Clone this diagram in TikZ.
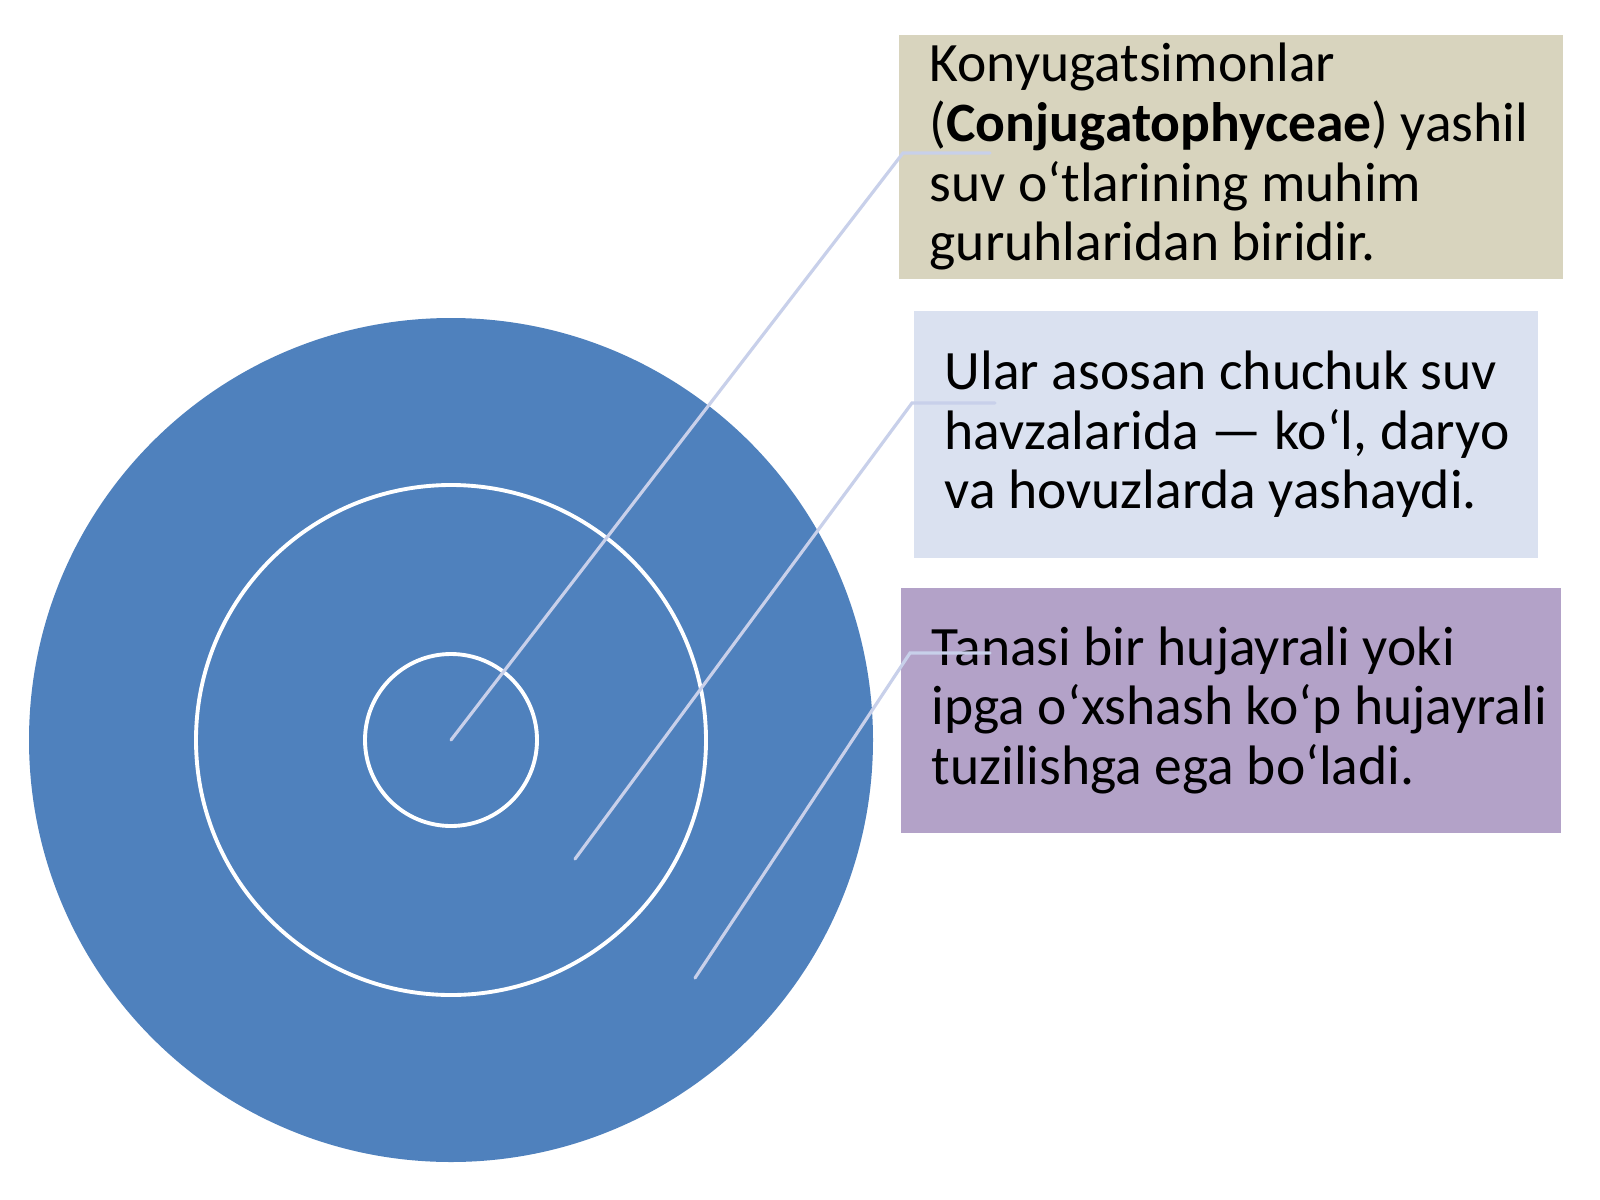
\documentclass[tikz,border=0pt]{standalone}
\usepackage{fontspec}
\setmainfont{Carlito}
\usetikzlibrary{positioning}
\definecolor{ringblue}{HTML}{4F81BD}
\definecolor{boxtan}{HTML}{D8D4BE}
\definecolor{boxsky}{HTML}{DAE1F0}
\definecolor{boxlilac}{HTML}{B3A2C8}
\definecolor{leadercol}{HTML}{C8D0EA}
\tikzset{
	infobox/.style={rectangle, anchor=north west, inner sep=0pt},
	infotext/.style={anchor=west, inner sep=0pt, align=left,
		font=\fontsize{15.8}{17}\selectfont},
	leader/.style={draw=leadercol, line width=0.9pt, line cap=round}
}
\begin{document}
\begin{tikzpicture}[x=0.01cm, y=-0.01cm]
		\useasboundingbox[fill=white] (0, 0) rectangle (1600, 1200);
		% target rings
		\coordinate (hub) at (451, 740);
		\fill[ringblue] (hub) circle[radius=422];
		\foreach \r in {255, 86}
			\draw[white, line width=1.1pt] (hub) circle[radius=\r];
		% text boxes
		\node[infobox, fill=boxtan, minimum width=6.64cm, minimum height=2.44cm] (b1) at (898, 34) {};
		\node[infobox, fill=boxsky, minimum width=6.24cm, minimum height=2.47cm] (b2) at (913, 310) {};
		\node[infobox, fill=boxlilac, minimum width=6.60cm, minimum height=2.45cm] (b3) at (900, 587) {};
		\node[infotext, right=0.31cm of b1.west] (t1)
			{Konyugatsimonlar\\(\textbf{Conjugatophyceae}) yashil\\suv o‘tlarining muhim\\guruhlaridan biridir.};
		\node[infotext, right=0.31cm of b2.west] (t2)
			{Ular asosan chuchuk suv\\havzalarida — ko‘l, daryo\\va hovuzlarda yashaydi.};
		\node[infotext, right=0.31cm of b3.west] (t3)
			{Tanasi bir hujayrali yoki\\ipga o‘xshash ko‘p hujayrali\\tuzilishga ega bo‘ladi.};
		% leader lines
		\coordinate (p1) at (451, 740);
		\coordinate (p2) at (575, 859);
		\coordinate (p3) at (695, 978);
		\coordinate (k1) at (903, 153);
		\coordinate (k2) at (912, 403);
		\coordinate (k3) at (910, 653);
		\coordinate (e1) at (990, 153);
		\coordinate (e2) at (995, 403);
		\coordinate (e3) at (990, 653);
		\foreach \i in {1, 2, 3}
			\draw[leader] (p\i) -- (k\i) -- (e\i);
	\end{tikzpicture}
\end{document}
